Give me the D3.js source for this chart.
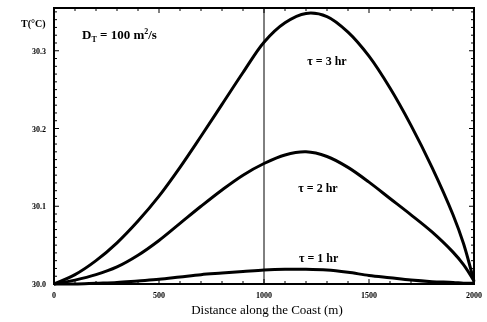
<!DOCTYPE html>
<html>
<head>
<meta charset="utf-8">
<script src="https://cdn.jsdelivr.net/npm/d3@7"></script>
<style>
  body { margin: 0; background: #fff; }
  svg { display: block; will-change: transform; }
  text { font-family: "Liberation Serif", "DejaVu Serif", serif; fill: #000; }
</style>
</head>
<body>
<div class="canvas"></div>
<script>
const dims = {
    width: 487,
    height: 322,
    top: 8,
    right: 13,
    bottom: 38,
    left: 54
};

// distance along the coast (m)
const distance = [0, 100, 200, 300, 400, 500, 600, 700, 800, 900, 1000,
    1100, 1200, 1300, 1400, 1500, 1600, 1700, 1800, 1900, 1950, 2000];

// temperature (deg C) for each tau
const tau3 = [30.000, 30.012, 30.030, 30.053, 30.081, 30.113, 30.150, 30.190, 30.231, 30.272, 30.311,
    30.336, 30.348, 30.344, 30.324, 30.293, 30.252, 30.204, 30.150, 30.089, 30.052, 30.003];
const tau2 = [30.000, 30.005, 30.012, 30.022, 30.037, 30.056, 30.078, 30.100, 30.121, 30.140, 30.155,
    30.166, 30.170, 30.164, 30.150, 30.131, 30.110, 30.089, 30.067, 30.041, 30.025, 30.004];
const tau1 = [30.000, 30.000, 30.001, 30.002, 30.004, 30.006, 30.009, 30.012, 30.014, 30.016, 30.018,
    30.019, 30.019, 30.018, 30.015, 30.011, 30.008, 30.005, 30.003, 30.002, 30.001, 30.001];

const seriesNames = ['\u03c4 = 3 hr', '\u03c4 = 2 hr', '\u03c4 = 1 hr'];
const xTicks = [0, 500, 1000, 1500, 2000];
const yTicks = [30.0, 30.1, 30.2, 30.3];
const yDomain = [30.0, 30.355];

// label anchors in data units: [distance, temperature]
const labelAt = [[1300, 30.282], [1257, 30.118], [1260, 30.028]];

const x = d3.scaleLinear().domain([0, 2000]).range([dims.left, dims.width - dims.right]);
const y = d3.scaleLinear().domain(yDomain).range([dims.height - dims.bottom, dims.top]);

const svg = d3.select('.canvas')
    .append('svg')
    .attr('width', dims.width)
    .attr('height', dims.height);

const x0 = x.range()[0], x1 = x.range()[1];
const y0 = y.range()[0], y1 = y.range()[1];

// inward ticks on all four sides
const ticks = svg.append('g').attr('stroke', '#000');
const xMinor = d3.range(0, 2001, 100);
const yMinor = d3.range(0, 36).map(i => 30 + i * 0.01);

ticks.selectAll('.xt').data(xMinor).enter().append('line')
    .attr('x1', d => x(d)).attr('x2', d => x(d))
    .attr('y1', y0).attr('y2', d => y0 - (d % 500 === 0 ? 5 : 3))
    .attr('stroke-width', 1);
ticks.selectAll('.xtt').data(xMinor).enter().append('line')
    .attr('x1', d => x(d)).attr('x2', d => x(d))
    .attr('y1', y1).attr('y2', d => y1 + (d % 500 === 0 ? 5 : 3))
    .attr('stroke-width', 1);
ticks.selectAll('.yt').data(yMinor).enter().append('line')
    .attr('x1', x0).attr('x2', (d, i) => x0 + (i % 10 === 0 ? 5 : 3))
    .attr('y1', d => y(d)).attr('y2', d => y(d))
    .attr('stroke-width', 1);
ticks.selectAll('.ytr').data(yMinor).enter().append('line')
    .attr('x1', x1).attr('x2', (d, i) => x1 - (i % 10 === 0 ? 5 : 3))
    .attr('y1', d => y(d)).attr('y2', d => y(d))
    .attr('stroke-width', 1);

// thin vertical line at 1000 m
svg.append('line')
    .attr('x1', x(1000)).attr('x2', x(1000))
    .attr('y1', y0).attr('y2', y1)
    .attr('stroke', '#000')
    .attr('stroke-width', 1);

// frame
svg.append('rect')
    .attr('x', x0).attr('y', y1)
    .attr('width', x1 - x0).attr('height', y0 - y1)
    .attr('fill', 'none')
    .attr('stroke', '#000')
    .attr('stroke-width', 2);

// curves
const line = d3.line()
    .x((d, i) => x(distance[i]))
    .y(d => y(d))
    .curve(d3.curveCatmullRom.alpha(0.5));

svg.append('g').selectAll('path')
    .data([tau3, tau2, tau1])
    .enter()
    .append('path')
    .attr('d', line)
    .attr('fill', 'none')
    .attr('stroke', '#000')
    .attr('stroke-width', 3)
    .attr('stroke-linejoin', 'round');

// curve labels
svg.append('g').selectAll('text')
    .data(seriesNames)
    .enter()
    .append('text')
    .attr('x', (d, i) => x(labelAt[i][0]))
    .attr('y', (d, i) => y(labelAt[i][1]))
    .attr('text-anchor', 'middle')
    .attr('font-size', 12)
    .attr('font-weight', 'bold')
    .text(d => d);

// tick labels
svg.append('g').selectAll('text')
    .data(yTicks)
    .enter()
    .append('text')
    .attr('x', x0 - 8)
    .attr('y', d => y(d) + 3)
    .attr('text-anchor', 'end')
    .attr('font-size', 8)
    .attr('font-weight', 'bold')
    .text(d => d.toFixed(1));

svg.append('g').selectAll('text')
    .data(xTicks)
    .enter()
    .append('text')
    .attr('x', d => x(d))
    .attr('y', y0 + 14)
    .attr('text-anchor', 'middle')
    .attr('font-size', 8)
    .attr('font-weight', 'bold')
    .text(d => d);

// axis titles
svg.append('text')
    .attr('x', (x0 + x1) / 2 + 3)
    .attr('y', y0 + 30)
    .attr('text-anchor', 'middle')
    .attr('font-size', 13)
    .text('Distance along the Coast (m)');

svg.append('text')
    .attr('x', 21)
    .attr('y', 27)
    .attr('font-size', 10)
    .attr('font-weight', 'bold')
    .text('T(\u00b0C)');

const dt = svg.append('text')
    .attr('x', 82)
    .attr('y', 39)
    .attr('font-size', 13)
    .attr('font-weight', 'bold');
dt.append('tspan').text('D');
dt.append('tspan').attr('font-size', 8).attr('dy', 3).text('T');
dt.append('tspan').attr('dy', -3).text(' = 100 m');
dt.append('tspan').attr('font-size', 8).attr('dy', -5).text('2');
dt.append('tspan').attr('dy', 5).text('/s');
</script>
</body>
</html>
